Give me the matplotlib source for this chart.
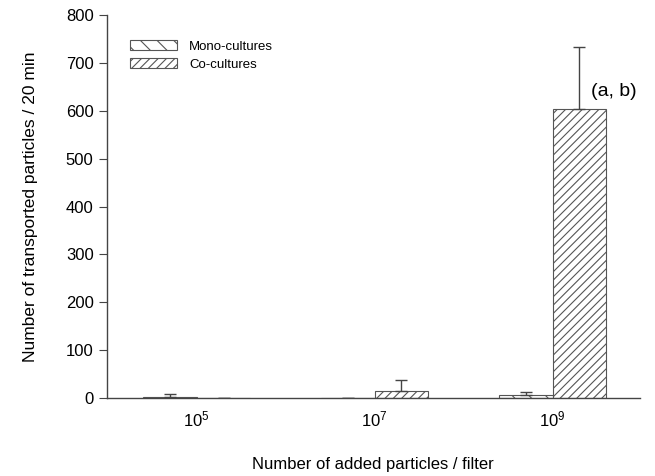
import matplotlib
matplotlib.use("Agg")
import matplotlib.pyplot as plt
import numpy as np

plt.rcParams['font.family'] = ['Liberation Sans', 'DejaVu Sans']
plt.rcParams['mathtext.fontset'] = 'custom'
plt.rcParams['mathtext.rm'] = 'Liberation Sans'
plt.rcParams['mathtext.it'] = 'Liberation Sans'
plt.rcParams['hatch.linewidth'] = 0.8

categories = ['$10^5$', '$10^7$', '$10^9$']
mono_values = [3, 0, 6]
mono_err = [6, 0, 7]
co_values = [0, 15, 605]
co_err = [0, 22, 128]
series_labels = ['Mono-cultures', 'Co-cultures']
annotation = '(a, b)'

fig = plt.figure(figsize=(6.55, 4.76), dpi=100)
ax = fig.add_axes([0.163, 0.164, 0.814, 0.804])

x = np.arange(len(categories))
w = 0.30
err_kw = dict(ecolor='#444444', elinewidth=1.0, capsize=4.5, capthick=1.0)
ax.bar(x - w/2, mono_values, w, yerr=[np.zeros(3), mono_err], color='white',
       edgecolor='#555555', hatch='\\\\', linewidth=0.8, label=series_labels[0],
       error_kw=err_kw)
ax.bar(x + w/2, co_values, w, yerr=[np.zeros(3), co_err], color='white',
       edgecolor='#555555', hatch='////', linewidth=0.8, label=series_labels[1],
       error_kw=err_kw)

ax.set_xlim(-0.506, 2.49)
ax.set_ylim(0, 800)
ax.set_yticks(range(0, 801, 100))
ax.set_xticks(x)
ax.set_xticklabels(categories, fontsize=12)
ax.tick_params(axis='x', length=0, pad=8)
ax.tick_params(axis='y', direction='out', length=6, labelsize=12, width=0.8, color='#444444')
for s in ['top', 'right']:
    ax.spines[s].set_visible(False)
for s in ['left', 'bottom']:
    ax.spines[s].set_color('#444444')
    ax.spines[s].set_linewidth(1.0)

ax.set_xlabel('Number of added particles / filter', fontsize=12, labelpad=20)
ax.set_ylabel('Number of transported particles / 20 min', fontsize=12.5, labelpad=20)

ax.text(2.215, 640, annotation, fontsize=14, ha='left', va='center')

leg = ax.legend(loc='upper left', bbox_to_anchor=(0.043, 0.935), frameon=False,
                fontsize=9.5, handlelength=3.6, handleheight=0.8, labelspacing=0.4,
                handletextpad=0.9, borderaxespad=0, borderpad=0)

fig.savefig('out.png', dpi=100)
